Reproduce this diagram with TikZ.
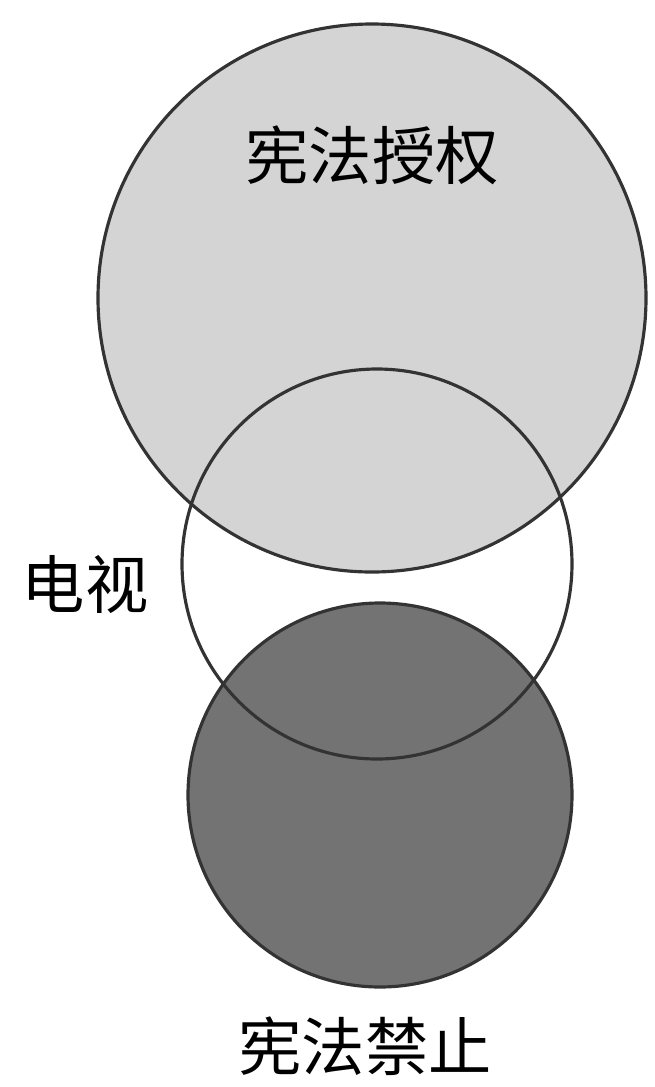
\documentclass[tikz,border=0pt]{standalone}
\usepackage{fontspec}
\newfontfamily\cjk{Noto Sans CJK SC}
\begin{document}
\begin{tikzpicture}[x=0.01cm,y=-0.01cm,
  ring/.style={draw=black!80,line width=0.9pt},
  lbl/.style={font=\cjk\fontsize{18}{20}\selectfont,text=black,inner sep=0pt}]
\useasboundingbox[fill=white] (0,0) rectangle (655,1087);
% fills
\fill[black!17] (372,298) circle (274);
\fill[black!55] (380,795) circle (192);
% outlines
\draw[ring] (380,795) circle (192);
\draw[ring] (372,298) circle (274);
\draw[ring] (377,564) circle (195);
% labels
\node[lbl] (grant) at (372,155) {宪法授权};
\node[lbl] (tv) at (85,585) {电视};
\node[lbl] (forbid) at (365,1046) {宪法禁止};
\end{tikzpicture}
\end{document}
